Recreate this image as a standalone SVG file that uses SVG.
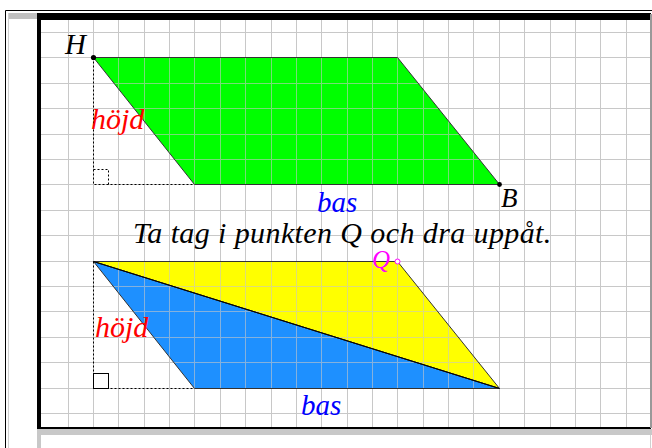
<svg xmlns="http://www.w3.org/2000/svg" width="652" height="448" viewBox="0 0 652 448">
<style>
.grid{stroke:#c8c8c8;stroke-width:1;fill:none}
.edge{stroke:#333;stroke-width:1}
.dash{stroke:#000;stroke-width:1;fill:none;stroke-dasharray:2,2}
.t{font-family:"Liberation Serif","Times New Roman",serif;font-style:italic}
</style>
<defs>
<g id="gridlines" class="grid">
<path d="M68.5 20V427M93.5 20V427M118.5 20V427M144.5 20V427M169.5 20V427M194.5 20V427M220.5 20V427M245.5 20V427M271.5 20V427M296.5 20V427M321.5 20V427M347.5 20V427M372.5 20V427M397.5 20V427M423.5 20V427M448.5 20V427M473.5 20V427M499.5 20V427M524.5 20V427M550.5 20V427M575.5 20V427M600.5 20V427M626.5 20V427"/>
<path d="M41 32.5H650M41 57.5H650M41 83.5H650M41 108.5H650M41 134.5H650M41 159.5H650M41 184.5H650M41 210.5H650M41 235.5H650M41 261.5H650M41 286.5H650M41 311.5H650M41 337.5H650M41 362.5H650M41 388.5H650M41 413.5H650"/>
</g>
</defs>
<rect width="652" height="448" fill="#fff"/>
<g id="frame">
<path d="M5.5 448V10.5H652" stroke="#000" fill="none"/>
<path d="M8.5 13V448" stroke="#d0d0d0" fill="none"/>
<rect x="9" y="13" width="28" height="6" fill="#c0c0c0"/>
<rect x="37" y="429" width="615" height="6" fill="#c8c8c8"/>
<rect x="37" y="435" width="4" height="13" fill="#c8c8c8"/>
<path d="M650.5 435V448" stroke="#d0d0d0" fill="none"/>
</g>
<g id="grid"><use href="#gridlines"/></g>
<g id="fills">
<polygon points="93.5,57.5 397.5,57.5 499.5,184.5 194.5,184.5" fill="#00ff00"/>
<polygon points="93.5,261.5 397.5,261.5 499.5,388.5" fill="#ffff00"/>
<polygon points="93.5,261.5 499.5,388.5 194.5,388.5" fill="#1e90ff"/>
</g>
<g id="grid-overlay" opacity="0.6"><use href="#gridlines"/></g>
<g id="border">
<rect x="37" y="13" width="4" height="416" fill="#000"/>
<rect x="37" y="13" width="614" height="7" fill="#000"/>
<rect x="37" y="427" width="614" height="2" fill="#000"/>
<rect x="650" y="14" width="2" height="414" fill="#999"/>
</g>
<g id="parallelogram-top">
<polygon points="93.5,57.5 397.5,57.5 499.5,184.5 194.5,184.5" fill="none" class="edge"/>
<path class="dash" d="M93.5 57.5V184.5H194.5"/>
<path class="dash" d="M93.5 169.5H108.5V184.5"/>
<circle cx="93.5" cy="57.5" r="2.6" fill="#000"/>
<circle cx="499.5" cy="184.5" r="2.4" fill="#000"/>
<text class="t" x="65" y="54" font-size="29" fill="#000">H</text>
<text class="t" x="501" y="207" font-size="27" fill="#000">B</text>
<text class="t" x="91" y="129" font-size="30" fill="#ff0000">höjd</text>
<text class="t" x="317" y="212" font-size="29" fill="#0000ff">bas</text>
</g>
<g id="instruction">
<text class="t" x="133" y="243" font-size="30" letter-spacing="0.4" fill="#000">Ta tag i punkten Q och dra uppåt.</text>
</g>
<g id="parallelogram-bottom">
<polygon points="93.5,261.5 397.5,261.5 499.5,388.5" fill="none" class="edge"/>
<polygon points="93.5,261.5 499.5,388.5 194.5,388.5" fill="none" class="edge"/>
<path d="M93.5 261.5L499.5 388.5" stroke="#000" fill="none"/>
<path class="dash" d="M93.5 261.5V388.5H194.5"/>
<rect x="93.5" y="373.5" width="15" height="15" fill="#fff" stroke="#000"/>
<text class="t" x="95" y="337" font-size="30" fill="#ff0000">höjd</text>
<text class="t" x="301" y="415" font-size="29" fill="#0000ff">bas</text>
<text class="t" x="372" y="268" font-size="25" fill="#ff00ff">Q</text>
<circle cx="397.5" cy="261.5" r="2.5" fill="#fff" stroke="#ff00ff"/>
</g>
</svg>
